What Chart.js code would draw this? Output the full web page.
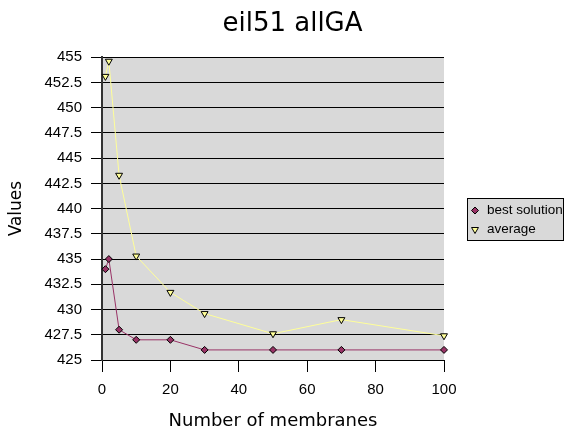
<!DOCTYPE html>
<html>
<head>
<meta charset="utf-8">
<script src="https://cdn.jsdelivr.net/npm/chart.js@4"></script>
<style>
    html, body { margin: 0; padding: 0; background: #fff; }
    #wrap { width: 565px; height: 430px; }
</style>
</head>
<body>
<div id="wrap"><canvas id="eilChart" width="565" height="430"></canvas></div>
<script>
const membranes = [1, 2, 5, 10, 20, 30, 50, 70, 100];
const bestSolution = [434, 435, 428, 427, 427, 426, 426, 426, 426];
const average = [453.1, 454.6, 443.3, 435.3, 431.7, 429.6, 427.6, 429.0, 427.4];
const yTicks = [425, 427.5, 430, 432.5, 435, 437.5, 440, 442.5, 445, 447.5, 450, 452.5, 455];
const xTicks = [0, 20, 40, 60, 80, 100];

const plotGray = '#d9d9d9';
const titleFont = '"DejaVu Sans", Verdana, sans-serif';
const tickFont = '"Liberation Sans", Arial, sans-serif';

function toPoints(xs, ys) {
    return xs.map((x, i) => ({ x: x, y: ys[i] }));
}

// grey plot area behind grid
const plotBackground = {
    id: 'plotBackground',
    beforeDraw(chart) {
        const { ctx, chartArea } = chart;
        ctx.save();
        ctx.fillStyle = plotGray;
        ctx.fillRect(chartArea.left, chartArea.top, chartArea.right - chartArea.left, chartArea.bottom - chartArea.top);
        ctx.restore();
    }
};

// boxed legend like the excel one
const boxLegend = {
    id: 'boxLegend',
    afterDraw(chart) {
        const ctx = chart.ctx;
        const x = 467, y = 198, w = 97, h = 43;
        ctx.save();
        ctx.fillStyle = plotGray;
        ctx.fillRect(x, y, w, h);
        ctx.strokeStyle = '#000';
        ctx.lineWidth = 1;
        ctx.strokeRect(x + 0.5, y + 0.5, w - 1, h - 1);
        ctx.font = '13.5px ' + tickFont;
        ctx.textBaseline = 'middle';
        chart.data.datasets.forEach((ds, i) => {
            const cy = y + 12.5 + i * 19;
            ctx.fillStyle = ds.pointBackgroundColor;
            ctx.strokeStyle = ds.pointBorderColor;
            ctx.lineWidth = 1;
            Chart.helpers.drawPoint(ctx, {
                pointStyle: ds.pointStyle,
                rotation: ds.pointRotation || 0,
                radius: ds.pointRadius,
                borderWidth: 1
            }, x + 8, cy);
            ctx.fillStyle = '#000';
            ctx.fillText(ds.label, x + 20, cy);
        });
        ctx.restore();
    }
};

const ctx = document.getElementById('eilChart').getContext('2d');
const chart = new Chart(ctx, {
    type: 'scatter',
    data: {
        datasets: [
            {
                label: 'best solution',
                data: toPoints(membranes, bestSolution),
                showLine: true,
                borderColor: '#993366',
                borderWidth: 1,
                pointStyle: 'rectRot',
                pointRadius: 3.5,
                pointBackgroundColor: '#993366',
                pointBorderColor: '#000',
                pointBorderWidth: 1,
                clip: false
            },
            {
                label: 'average',
                data: toPoints(membranes, average),
                showLine: true,
                borderColor: '#ffff99',
                borderWidth: 1,
                pointStyle: 'triangle',
                pointRotation: 180,
                pointRadius: 4,
                pointBackgroundColor: '#ffff99',
                pointBorderColor: '#000',
                pointBorderWidth: 1,
                clip: false
            }
        ]
    },
    options: {
        responsive: false,
        animation: false,
        layout: { padding: { left: 20, right: 0, top: 0, bottom: 0 } },
        plugins: {
            legend: { display: false },
            tooltip: { enabled: false },
            title: {
                display: true,
                text: 'eil51 allGA',
                color: '#000',
                font: { family: titleFont, size: 26, weight: 'normal', lineHeight: 1.2 },
                padding: { top: 9, bottom: 17 }
            }
        },
        scales: {
            x: {
                type: 'linear',
                min: 0,
                max: 100,
                afterFit: (s) => { s.height = 70; },
                afterBuildTicks: (s) => { s.ticks = xTicks.map(v => ({ value: v })); },
                grid: { drawOnChartArea: false, drawTicks: true, tickLength: 12, color: '#000', lineWidth: 1 },
                border: { color: '#000', width: 1 },
                ticks: { color: '#000', padding: 9, maxRotation: 0, font: { family: tickFont, size: 15 } },
                title: {
                    display: true,
                    text: 'Number of membranes',
                    color: '#000',
                    font: { family: titleFont, size: 18, lineHeight: 1 },
                    padding: { top: 0, bottom: 0 }
                }
            },
            y: {
                type: 'linear',
                min: 425,
                max: 455,
                afterFit: (s) => { s.width = 82; },
                afterBuildTicks: (s) => { s.ticks = yTicks.map(v => ({ value: v })); },
                grid: { drawOnChartArea: true, drawTicks: true, tickLength: 11, color: '#000', lineWidth: 1 },
                border: { color: '#333', width: 2 },
                ticks: {
                    color: '#000',
                    padding: 9,
                    font: { family: tickFont, size: 15 },
                    callback: (v) => String(v)
                },
                title: {
                    display: true,
                    text: 'Values',
                    color: '#000',
                    font: { family: titleFont, size: 17, lineHeight: 1 },
                    padding: { top: -11.5, bottom: 0 }
                }
            },
            // empty space on the right where the legend sits
            side: {
                type: 'linear',
                position: 'right',
                display: true,
                afterFit: (s) => { s.width = 121; },
                grid: { display: false },
                border: { display: false },
                ticks: { display: false }
            }
        }
    },
    plugins: [plotBackground, boxLegend]
});
</script>
</body>
</html>
